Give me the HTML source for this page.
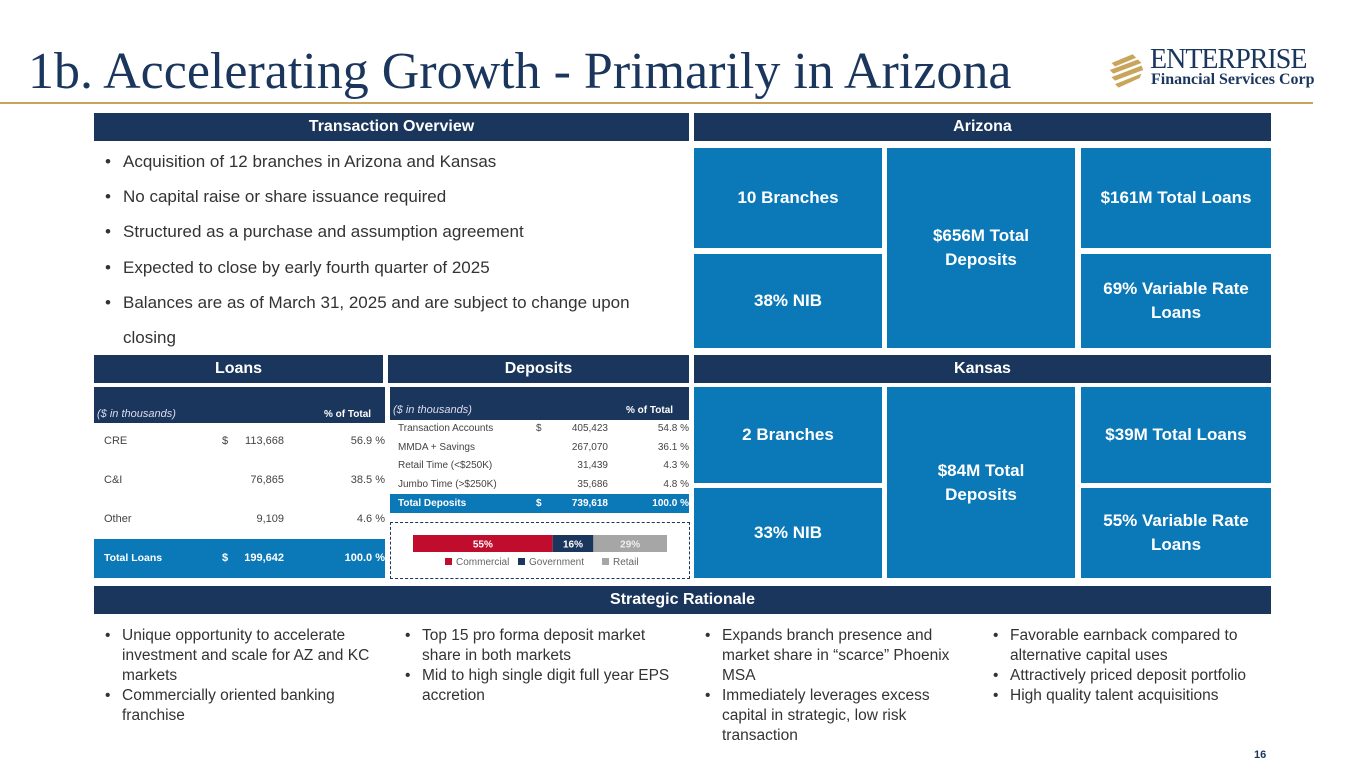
<!DOCTYPE html>
<html><head><meta charset="utf-8">
<style>
*{margin:0;padding:0;box-sizing:border-box}
body{width:1365px;height:768px;background:#fff;position:relative;overflow:hidden;font-family:"Liberation Sans",sans-serif;color:#333}
.a{position:absolute}
.hdr{position:absolute;background:#1b365d;color:#fff;font-weight:bold;font-size:16px;text-align:center;line-height:28px;height:28px}
.box{position:absolute;background:#0b78b8;color:#fff;font-weight:bold;font-size:17px;display:flex;align-items:center;justify-content:center;text-align:center;line-height:24px}
.bul{position:absolute;font-size:17px;color:#333;left:105px;white-space:nowrap}
.bul span{position:absolute;left:0}
.bul div{padding-left:18px}
.sr{position:absolute;top:626px;font-size:15.5px;line-height:20px;color:#333;width:270px}
.sr div{position:relative;padding-left:17px}
.sr div:before{content:"•";position:absolute;left:0}
.t{position:absolute;font-size:11px;color:#444}
.r{text-align:right}
</style></head><body>
<div class="a" style="left:28px;top:41px;font-family:'Liberation Serif',serif;font-size:52px;color:#1b365d;line-height:62px;white-space:nowrap">1b. Accelerating Growth - Primarily in Arizona</div>
<div class="a" style="left:1108px;top:48px;width:210px;height:45px">
<svg width="44" height="45" viewBox="0 0 50 45" style="position:absolute;left:0;top:0">
<g fill="#c8a55a"><polygon points="4,14 28,4 32,8 8,18"/><polygon points="2,22 34,10 38,14 6,26"/><polygon points="4,30 38,17 40,22 8,34"/><polygon points="8,38 38,26 36,31 12,42"/></g></svg>
<div class="a" style="left:42px;top:-4px;font-family:'Liberation Serif',serif;font-size:28px;color:#1b365d;letter-spacing:-1px;white-space:nowrap">ENTERPRISE</div>
<div class="a" style="left:43px;top:23px;font-family:'Liberation Serif',serif;font-size:16px;color:#1b365d;font-weight:bold;white-space:nowrap">Financial Services Corp</div>
</div>
<div class="a" style="left:0;top:102px;width:1313px;height:2px;background:#c8a55a"></div>

<div class="hdr" style="left:94px;top:113px;width:595px">Transaction Overview</div>
<div class="hdr" style="left:694px;top:113px;width:577px">Arizona</div>

<div class="bul" style="top:152px"><span>•</span><div>Acquisition of 12 branches in Arizona and Kansas</div></div>
<div class="bul" style="top:187px"><span>•</span><div>No capital raise or share issuance required</div></div>
<div class="bul" style="top:222px"><span>•</span><div>Structured as a purchase and assumption agreement</div></div>
<div class="bul" style="top:258px"><span>•</span><div>Expected to close by early fourth quarter of 2025</div></div>
<div class="bul" style="top:285px;line-height:35px;width:575px;white-space:normal"><span>•</span><div>Balances are as of March 31, 2025 and are subject to change upon closing</div></div>

<div class="box" style="left:694px;top:148px;width:188px;height:100px">10 Branches</div>
<div class="box" style="left:887px;top:148px;width:188px;height:200px">$656M Total<br>Deposits</div>
<div class="box" style="left:1081px;top:148px;width:190px;height:100px">$161M Total Loans</div>
<div class="box" style="left:694px;top:254px;width:188px;height:94px">38% NIB</div>
<div class="box" style="left:1081px;top:254px;width:190px;height:94px">69% Variable Rate<br>Loans</div>

<div class="hdr" style="left:94px;top:355px;width:289px">Loans</div>
<div class="hdr" style="left:388px;top:355px;width:301px">Deposits</div>
<div class="hdr" style="left:694px;top:355px;width:577px">Kansas</div>

<!-- Loans table -->
<div class="a" style="left:94px;top:387px;width:291px;height:36px;background:#1b365d"></div>
<div class="t" style="left:97px;top:408px;color:#dde;font-style:italic">($ in thousands)</div>
<div class="t" style="left:324px;top:409px;color:#fff;font-weight:bold;font-size:10px">% of Total</div>
<div class="t" style="left:104px;top:435px">CRE</div><div class="t" style="left:222px;top:435px">$</div><div class="t r" style="left:230px;top:435px;width:54px">113,668</div><div class="t r" style="left:320px;top:435px;width:65px">56.9 %</div>
<div class="t" style="left:104px;top:474px">C&amp;I</div><div class="t r" style="left:230px;top:474px;width:54px">76,865</div><div class="t r" style="left:320px;top:474px;width:65px">38.5 %</div>
<div class="t" style="left:104px;top:513px">Other</div><div class="t r" style="left:230px;top:513px;width:54px">9,109</div><div class="t r" style="left:320px;top:513px;width:65px">4.6 %</div>
<div class="a" style="left:94px;top:539px;width:291px;height:39px;background:#0b78b8"></div>
<div class="t" style="left:104px;top:552px;color:#fff;font-weight:bold;font-size:10.5px">Total Loans</div><div class="t" style="left:222px;top:552px;color:#fff;font-weight:bold">$</div><div class="t r" style="left:230px;top:552px;width:54px;color:#fff;font-weight:bold">199,642</div><div class="t r" style="left:320px;top:552px;width:65px;color:#fff;font-weight:bold">100.0 %</div>

<!-- Deposits table -->
<div class="a" style="left:390px;top:387px;width:299px;height:33px;background:#1b365d"></div>
<div class="t" style="left:393px;top:404px;color:#dde;font-style:italic">($ in thousands)</div>
<div class="t" style="left:626px;top:405px;color:#fff;font-weight:bold;font-size:10px">% of Total</div>
<div class="t" style="left:398px;top:423px;font-size:10px">Transaction Accounts</div><div class="t" style="left:536px;top:423px;font-size:10px">$</div><div class="t r" style="left:550px;top:423px;width:58px;font-size:10px">405,423</div><div class="t r" style="left:630px;top:423px;width:59px;font-size:10px">54.8 %</div>
<div class="t" style="left:398px;top:442px;font-size:10px">MMDA + Savings</div><div class="t r" style="left:550px;top:442px;width:58px;font-size:10px">267,070</div><div class="t r" style="left:630px;top:442px;width:59px;font-size:10px">36.1 %</div>
<div class="t" style="left:398px;top:460px;font-size:10px">Retail Time (&lt;$250K)</div><div class="t r" style="left:550px;top:460px;width:58px;font-size:10px">31,439</div><div class="t r" style="left:630px;top:460px;width:59px;font-size:10px">4.3 %</div>
<div class="t" style="left:398px;top:479px;font-size:10px">Jumbo Time (&gt;$250K)</div><div class="t r" style="left:550px;top:479px;width:58px;font-size:10px">35,686</div><div class="t r" style="left:630px;top:479px;width:59px;font-size:10px">4.8 %</div>
<div class="a" style="left:390px;top:494px;width:299px;height:19px;background:#0b78b8"></div>
<div class="t" style="left:398px;top:498px;color:#fff;font-weight:bold;font-size:10px">Total Deposits</div><div class="t" style="left:536px;top:498px;color:#fff;font-weight:bold;font-size:10px">$</div><div class="t r" style="left:550px;top:498px;width:58px;color:#fff;font-weight:bold;font-size:10px">739,618</div><div class="t r" style="left:630px;top:498px;width:59px;color:#fff;font-weight:bold;font-size:10px">100.0 %</div>

<div class="a" style="left:390px;top:522px;width:300px;height:57px;border:1.5px dashed #1b365d"></div>
<svg id="mix" class="a" style="left:390px;top:522px" width="300" height="57"></svg>

<div class="box" style="left:694px;top:387px;width:188px;height:96px">2 Branches</div>
<div class="box" style="left:887px;top:387px;width:188px;height:191px">$84M Total<br>Deposits</div>
<div class="box" style="left:1081px;top:387px;width:190px;height:96px">$39M Total Loans</div>
<div class="box" style="left:694px;top:488px;width:188px;height:90px">33% NIB</div>
<div class="box" style="left:1081px;top:488px;width:190px;height:90px">55% Variable Rate<br>Loans</div>

<div class="hdr" style="left:94px;top:586px;width:1177px">Strategic Rationale</div>

<div class="sr" style="left:105px;width:265px"><div>Unique opportunity to accelerate investment and scale for AZ and KC markets</div><div>Commercially oriented banking franchise</div></div>
<div class="sr" style="left:405px;width:265px"><div>Top 15 pro forma deposit market share in both markets</div><div>Mid to high single digit full year EPS accretion</div></div>
<div class="sr" style="left:705px;width:250px"><div>Expands branch presence and market share in “scarce” Phoenix MSA</div><div>Immediately leverages excess capital in strategic, low risk transaction</div></div>
<div class="sr" style="left:993px;width:280px"><div>Favorable earnback compared to alternative capital uses</div><div>Attractively priced deposit portfolio</div><div>High quality talent acquisitions</div></div>

<div class="a" style="left:1254px;top:749px;font-size:11px;color:#1b365d;font-weight:bold">16</div>

<script>
const mixCategories = ["Commercial", "Government", "Retail"];
const mixValues = [55, 16, 29];
const mixColors = ["#c00d2e", "#1b365d", "#a6a6a6"];
(function(){
  const svg = document.getElementById('mix');
  const NS = 'http://www.w3.org/2000/svg';
  const x0 = 23, w = 254, y0 = 13, h = 17;
  const total = mixValues.reduce((a,b)=>a+b,0);
  const xs = v => v / total * w;
  let cx = x0;
  mixValues.forEach((v,i)=>{
    const r = document.createElementNS(NS,'rect');
    
    
    r.setAttribute('x', cx); r.setAttribute('y', y0);
    r.setAttribute('width', xs(v)); r.setAttribute('height', h);
    r.setAttribute('fill', mixColors[i]);
    svg.appendChild(r);
    const t = document.createElementNS(NS,'text');
    
    
    t.setAttribute('x', cx + xs(v)/2); t.setAttribute('y', y0 + 12.5);
    t.setAttribute('text-anchor','middle'); t.setAttribute('font-size','10');
    t.setAttribute('font-weight','bold');
    t.setAttribute('fill', i===2 ? '#eee' : '#fff');
    t.setAttribute('font-family','Liberation Sans, sans-serif');
    t.textContent = v + '%';
    svg.appendChild(t);
    cx += xs(v);
  });
  const lx = [55, 128, 212];
  mixCategories.forEach((c,i)=>{
    const s = document.createElementNS(NS,'rect');
    
    
    s.setAttribute('x', lx[i]); s.setAttribute('y', 36); s.setAttribute('width', 7); s.setAttribute('height', 7);
    s.setAttribute('fill', mixColors[i]);
    svg.appendChild(s);
    const t = document.createElementNS(NS,'text');
    
    
    t.setAttribute('x', lx[i]+11); t.setAttribute('y', 43);
    t.setAttribute('font-size','10'); t.setAttribute('fill','#666');
    t.setAttribute('font-family','Liberation Sans, sans-serif');
    t.textContent = c;
    svg.appendChild(t);
  });
})();
</script>
</body></html>
